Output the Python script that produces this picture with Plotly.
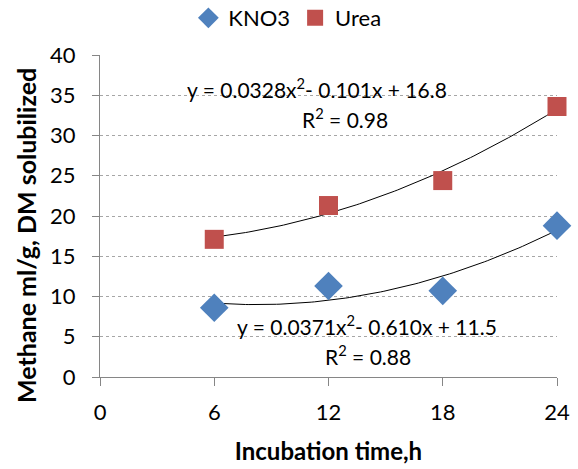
import numpy as np
import plotly.graph_objects as go

# Incubation time (h) and methane yield (ml/g DM solubilized)
hours = [6, 12, 18, 24]
kno3 = [8.6, 11.3, 10.7, 18.8]
urea = [17.1, 21.3, 24.4, 33.6]

# Second-order polynomial trendlines: [a, b, c] for a*x^2 + b*x + c
kno3_fit = [0.0371, -0.610, 11.5]
urea_fit = [0.0328, -0.101, 16.8]
kno3_r2 = 0.88
urea_r2 = 0.98

x_ticks = [0, 6, 12, 18, 24]
y_ticks = [0, 5, 10, 15, 20, 25, 30, 35, 40]

FONT = "Lato"
BLUE = "#4F81BD"
RED = "#C0504D"
AXIS_GREY = "#868686"


def eq_text(c):
    a, b, k = c
    sb = "-" if b < 0 else "+"
    sk = "-" if k < 0 else "+"
    return f"y = {a:.4f}x<sup>2</sup>{sb} {abs(b):.3f}x {sk} {abs(k):.1f}"


def r2_text(r2):
    return f"R<sup>2</sup> = {r2:.2f}"


xs = np.linspace(min(hours), max(hours), 100)

fig = go.Figure()

# trendlines first so markers sit on top
for c in (kno3_fit, urea_fit):
    fig.add_trace(go.Scatter(
        x=xs, y=np.polyval(c, xs), mode="lines",
        line=dict(color="black", width=1), showlegend=False, hoverinfo="skip",
    ))

fig.add_trace(go.Scatter(
    x=hours, y=kno3, mode="markers", name="KNO3",
    marker=dict(symbol="diamond", size=22, color=BLUE),
    cliponaxis=False,
))
fig.add_trace(go.Scatter(
    x=hours, y=urea, mode="markers", name="Urea",
    marker=dict(symbol="square", size=19, color=RED),
    cliponaxis=False,
))

label_font = dict(family=FONT, size=21, color="black")
for (x, y, txt) in [
    (11.40, 35.9, eq_text(urea_fit)),
    (12.87, 32.2, r2_text(urea_r2)),
    (14.02, 6.46, eq_text(kno3_fit)),
    (14.08, 2.73, r2_text(kno3_r2)),
]:
    fig.add_annotation(x=x, y=y, xref="x", yref="y", text=txt,
                       showarrow=False, font=label_font)

# vertical axis title, placed a little below the plot's mid-height
fig.add_annotation(
    x=-0.162, y=0.441, xref="paper", yref="paper",
    text="<b>Methane ml/g, DM solubilized</b>", textangle=-90,
    showarrow=False, xanchor="center", yanchor="middle",
    font=dict(family=FONT, size=25, color="black"),
)

fig.update_layout(
    width=578, height=469,
    margin=dict(l=100, r=21, t=55, b=92, autoexpand=False),
    paper_bgcolor="white", plot_bgcolor="white",
    font=dict(family=FONT, size=22, color="black"),
    showlegend=True,
    legend=dict(
        orientation="h", x=0.41, xanchor="center",
        yref="container", y=1 - 18 / 469, yanchor="middle",
        font=dict(family=FONT, size=22), itemwidth=30, tracegroupgap=0,
        bgcolor="rgba(0,0,0,0)",
    ),
    xaxis=dict(
        range=[0, 24], tickvals=x_ticks, showgrid=False,
        showline=True, linecolor=AXIS_GREY, linewidth=1,
        ticks="outside", ticklen=8, tickcolor=AXIS_GREY,
        ticklabelstandoff=8, zeroline=False, automargin=False,
        title=dict(text="<b>Incubation time,h</b>",
                   font=dict(family=FONT, size=24), standoff=18),
    ),
    yaxis=dict(
        range=[0, 40], tickvals=y_ticks,
        showgrid=True, gridcolor="#A6A6A6", griddash="dot", gridwidth=1,
        showline=True, linecolor=AXIS_GREY, linewidth=1,
        ticks="outside", ticklen=7, tickcolor=AXIS_GREY,
        ticklabelstandoff=12, zeroline=False, automargin=False,
    ),
)

fig.write_html("out.html")
